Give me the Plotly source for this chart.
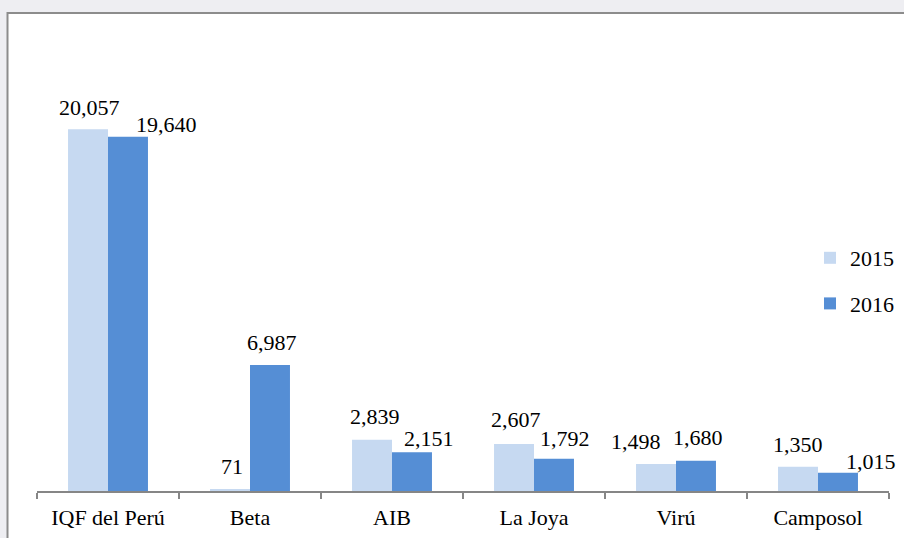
import plotly.graph_objects as go

categories = ["IQF del Perú", "Beta", "AIB", "La Joya", "Virú", "Camposol"]
values_2015 = [20057, 71, 2839, 2607, 1498, 1350]
values_2016 = [19640, 6987, 2151, 1792, 1680, 1015]
series_names = ["2015", "2016"]

# label nudges (pixels): (dx from bar centre, dy of label centre above bar top)
nudge_2015 = [(1, 22), (2, 23), (3, 23), (2, 24), (-20, 22), (0, 22)]
nudge_2016 = [(39, 12), (2, 22), (17, 14), (11, 20), (2, 23), (33, 11)]

c2015 = "#C6D9F1"
c2016 = "#558ED5"
FONT = "Liberation Serif"

fig = go.Figure()
fig.add_trace(go.Bar(x=categories, y=values_2015, name=series_names[0], legendgroup="a",
                     marker=dict(color=c2015, line=dict(width=0))))
fig.add_trace(go.Bar(x=categories, y=values_2016, name=series_names[1], legendgroup="b",
                     marker=dict(color=c2016, line=dict(width=0))))

ann = []
for i, cat in enumerate(categories):
    for vals, nud, off in ((values_2015, nudge_2015, -0.1408), (values_2016, nudge_2016, 0.1408)):
        dx, dy = nud[i]
        ann.append(dict(x=i + off, y=vals[i], xref="x", yref="y",
                        text=f"{vals[i]:,}", showarrow=False,
                        xanchor="center", yanchor="middle",
                        xshift=dx, yshift=dy,
                        font=dict(family=FONT, size=22, color="#000000")))

fig.update_layout(
    width=904, height=538,
    margin=dict(l=37, r=15, t=40, b=47, autoexpand=False),
    paper_bgcolor="#EEEEF2",
    plot_bgcolor="rgba(0,0,0,0)",
    barmode="group",
    bargap=0.437,
    bargroupgap=0,
    showlegend=True,
    legend=dict(x=(899 - 37) / 852, y=(491 - 281) / 451, xanchor="right", yanchor="middle",
                bgcolor="rgba(0,0,0,0)", font=dict(family=FONT, size=22, color="#000"),
                itemwidth=30, tracegroupgap=14, traceorder="grouped"),
    annotations=ann,
    shapes=[dict(type="rect", xref="paper", yref="paper",
                 x0=(7.5 - 37) / 852, x1=1.1, y0=-0.3, y1=(491 - 13) / 451,
                 fillcolor="#FFFFFF", line=dict(color="#8C8C8C", width=2),
                 layer="below")],
    xaxis=dict(showline=True, linecolor="#868686", linewidth=1.5,
               range=[-0.5, len(categories) - 0.5], autorange=False,
               ticks="outside", ticklen=6, tickcolor="#868686", tickwidth=1.5,
               tickson="boundaries", showgrid=False, automargin=False,
               ticklabelstandoff=6,
               tickfont=dict(family=FONT, size=22, color="#000")),
    yaxis=dict(range=[0, 25000], visible=False, showgrid=False, zeroline=False,
               automargin=False),
    font=dict(family=FONT),
)

fig.write_html("out.html")
